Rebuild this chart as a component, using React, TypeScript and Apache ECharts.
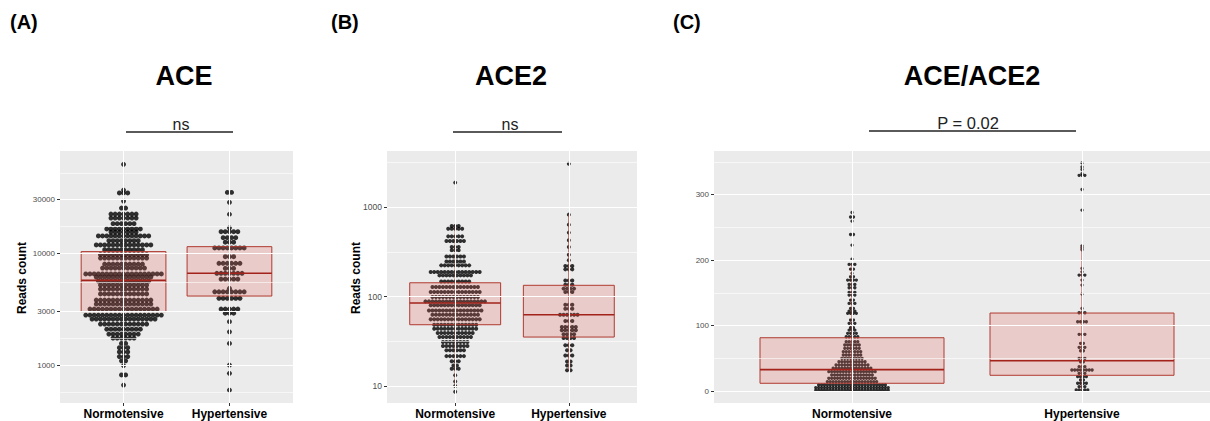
import React, { useEffect, useRef } from 'react';
import * as echarts from 'echarts';

const categories = ['Normotensive', 'Hypertensive'];

// ---------- (A) ACE reads count : dot rows (row value, dots in row) ----------
const aceNormoValues = [62000, 36500, 34400, 29100, 25200, 22300, 20500, 18300, 16400, 15400, 14200, 12900, 11800, 10700, 9660, 9020, 7980, 7350, 6500, 6100, 5620, 5180, 4770, 4310, 3800, 3500, 3160, 2790, 2570, 2320, 2090, 1890, 1740, 1560, 1430, 1310, 1190, 1090, 990, 815, 663];
const aceNormoCounts = [1, 1, 3, 1, 2, 7, 7, 6, 9, 7, 13, 8, 14, 10, 12, 12, 10, 11, 19, 14, 13, 12, 12, 12, 14, 14, 17, 19, 16, 12, 9, 8, 6, 2, 3, 3, 3, 2, 1, 2, 1];
const aceHyperValues = [34800, 28400, 22200, 16800, 15500, 13700, 12500, 11100, 9270, 8090, 7300, 6590, 5860, 4840, 4510, 3940, 3160, 2900, 2440, 1980, 1560, 1000, 843, 598];
const aceHyperCounts = [2, 1, 1, 1, 5, 4, 3, 8, 3, 6, 3, 7, 5, 1, 8, 6, 5, 3, 1, 1, 1, 1, 1, 1];
// box: [lower whisker, Q1, median, Q3, upper whisker]
const aceNormoBox = [663, 3000, 5700, 10300, 62000];
const aceHyperBox = [598, 4130, 6600, 11400, 34800];
const aceTicks = [1000, 3000, 10000, 30000];
const aceMinorTicks = [577, 1732, 5477, 17320, 51962];

// ---------- (B) ACE2 reads count ----------
const ace2NormoValues = [1890, 618, 577, 473, 420, 359, 330, 282, 248, 224, 189, 173, 148, 128, 113, 99, 88.5, 80, 70, 62.8, 55.7, 48.6, 43.8, 39.1, 35.3, 31, 28, 25.1, 21.6, 18.9, 17, 15.6, 13.2, 11.2, 10, 8.6];
const ace2NormoCounts = [1, 3, 5, 5, 6, 3, 3, 6, 6, 9, 15, 10, 9, 14, 15, 14, 18, 15, 16, 14, 15, 13, 13, 11, 10, 8, 8, 6, 6, 3, 2, 3, 1, 1, 1, 1];
const ace2HyperValues = [3080, 828, 640, 521, 427, 359, 295, 255, 220, 202, 152, 136, 123, 113, 81.3, 73.4, 62.8, 53.3, 45.7, 42, 37.9, 34.4, 28.5, 25.1, 22, 18.8, 17, 15];
const ace2HyperCounts = [1, 1, 1, 1, 1, 1, 1, 1, 3, 3, 3, 3, 4, 3, 3, 3, 6, 3, 5, 5, 4, 4, 3, 2, 3, 2, 2, 2];
const ace2NormoBox = [10, 48.5, 84.8, 143, 618];
const ace2HyperBox = [15, 35.3, 62.8, 134, 828];
const ace2Ticks = [10, 100, 1000];
const ace2MinorTicks = [31.6, 316, 3162];

// ---------- (C) ACE/ACE2 ratio ----------
const ratioNormoValues = [272.9, 266, 259.6, 239.3, 223, 201.7, 193.6, 186.4, 180, 174.7, 169.7, 163, 158, 151, 146.8, 139.2, 134.1, 126.5, 122.4, 118.9, 108.7, 103.7, 97, 93.4, 88.4, 83.2, 75.6, 70.6, 65.5, 60.4, 55.3, 50.3, 45.1, 40.1, 35.1, 29.9, 24.8, 19.8, 14.6, 9.6, 5.5, 1.5];
const ratioNormoCounts = [1, 2, 1, 2, 1, 1, 3, 2, 1, 2, 4, 3, 3, 3, 3, 2, 3, 2, 3, 4, 2, 3, 2, 3, 4, 5, 5, 6, 6, 7, 7, 8, 10, 12, 14, 17, 15, 17, 18, 24, 26, 26];
const ratioHyperValues = [348.5, 342.4, 338.4, 332, 329.5, 308, 276.4, 222, 219, 216, 187.5, 182.3, 177.3, 169.7, 162, 148.3, 126.5, 119.8, 106.1, 86.9, 73.2, 67.1, 61.9, 50.3, 45.1, 37.5, 32.5, 27.4, 22.3, 17.2, 12.2, 7, 2];
const ratioHyperCounts = [1, 1, 1, 1, 3, 1, 1, 1, 1, 1, 1, 1, 3, 1, 1, 1, 1, 3, 4, 3, 2, 3, 2, 3, 2, 3, 8, 3, 4, 2, 4, 3, 5];
const ratioNormoBox = [1.5, 12.2, 33, 81.7, 193.6];
const ratioHyperBox = [2, 24.4, 46.6, 119.4, 222];
const ratioTicks = [0, 100, 200, 300];
const ratioMinorTicks = [50, 150, 250, 350];

// ---------- styling ----------
const FONT = '"Liberation Sans", Arial, Helvetica, sans-serif';
const PANEL_BG = '#EBEBEB';
const BOX_LINE = '#B03A30';
const BOX_FILL = 'rgba(225,100,90,0.24)';
const MEDIAN = '#A3231B';
const X_MIN = 0.4;
const X_MAX = 2.6;

type Panel = {
  left: number; width: number; yType: 'log' | 'value'; yMin: number; yMax: number;
  ticks: number[]; minor: number[]; dotPx: number; dotSize: number; labelSize: number;
  groups: [number[], number[], number[]][];
};

const TOP = 151;
const HEIGHT = 252;

const panels: Panel[] = [
  { left: 60, width: 233, yType: 'log', yMin: 458, yMax: 81500, ticks: aceTicks, minor: aceMinorTicks, dotPx: 4.2, dotSize: 4.9, labelSize: 8,
    groups: [[aceNormoValues, aceNormoCounts, aceNormoBox], [aceHyperValues, aceHyperCounts, aceHyperBox]] },
  { left: 387, width: 250, yType: 'log', yMin: 6.45, yMax: 4270, ticks: ace2Ticks, minor: ace2MinorTicks, dotPx: 3.5, dotSize: 4.0, labelSize: 8.5,
    groups: [[ace2NormoValues, ace2NormoCounts, ace2NormoBox], [ace2HyperValues, ace2HyperCounts, ace2HyperBox]] },
  { left: 714, width: 506, yType: 'value', yMin: -17.9, yMax: 366.7, ticks: ratioTicks, minor: ratioMinorTicks, dotPx: 2.9, dotSize: 3.3, labelSize: 8,
    groups: [[ratioNormoValues, ratioNormoCounts, ratioNormoBox], [ratioHyperValues, ratioHyperCounts, ratioHyperBox]] },
];

function dotRows(vals: number[], counts: number[], center: number, pitch: number): number[][] {
  const out: number[][] = [];
  vals.forEach((v, r) => {
    const n = counts[r];
    for (let i = 0; i < n; i++) out.push([center + (i - (n - 1) / 2) * pitch, v]);
  });
  return out;
}

function buildOption() {
  const grid: any[] = [];
  const xAxis: any[] = [];
  const yAxis: any[] = [];
  const series: any[] = [];

  panels.forEach((p, i) => {
    grid.push({ left: p.left, top: TOP, width: p.width, height: HEIGHT, show: true, backgroundColor: PANEL_BG, borderWidth: 0, containLabel: false, outerBoundsMode: 'none' });
    xAxis.push({
      type: 'value', gridIndex: i, min: X_MIN, max: X_MAX,
      axisLine: { show: false }, splitLine: { show: false },
      axisTick: { show: true, customValues: [1, 2], length: 3, lineStyle: { color: '#333', width: 1 } },
      axisLabel: { customValues: [1, 2], formatter: (v: number) => categories[Math.round(v) - 1] ?? '', fontWeight: 'bold', fontSize: 12, color: '#000', margin: 5, fontFamily: FONT },
    });
    yAxis.push({
      type: p.yType, logBase: 10, gridIndex: i, min: p.yMin, max: p.yMax,
      axisLine: { show: false }, splitLine: { show: false }, minorSplitLine: { show: false },
      axisTick: { show: true, customValues: p.ticks, length: 3, lineStyle: { color: '#333', width: 1 } },
      axisLabel: { customValues: p.ticks, formatter: (v: number) => String(Math.round(v)), fontSize: p.labelSize, color: '#4D4D4D', margin: 5, fontFamily: FONT },
    });

    const white = (w: number) => ({ color: '#FFFFFF', width: w, type: 'solid' });
    series.push({
      type: 'line', xAxisIndex: i, yAxisIndex: i, data: [], silent: true, z: 1,
      markLine: {
        silent: true, symbol: ['none', 'none'], label: { show: false }, animation: false,
        data: [
          ...p.minor.filter((v) => v > p.yMin && v < p.yMax).map((v) => ({ yAxis: v, lineStyle: white(0.6) })),
          ...p.ticks.map((v) => ({ yAxis: v, lineStyle: white(1.1) })),
          ...[1, 2].map((v) => ({ xAxis: v, lineStyle: white(1.1) })),
        ],
      },
    });

    const pitch = (p.dotPx * (X_MAX - X_MIN)) / p.width;
    const dots: number[][] = [];
    p.groups.forEach((g, gi) => dots.push(...dotRows(g[0], g[1], gi + 1, pitch)));
    series.push({
      type: 'scatter', xAxisIndex: i, yAxisIndex: i, data: dots, symbol: 'circle', symbolSize: p.dotSize,
      itemStyle: { color: '#000000' }, silent: true, z: 2, large: false,
    });

    series.push({
      type: 'custom', xAxisIndex: i, yAxisIndex: i, z: 3, silent: true,
      data: p.groups.map((g, gi) => [gi + 1, ...g[2]]),
      encode: { x: 0, y: [1, 2, 3, 4, 5] },
      renderItem: (params: any, api: any) => {
        const x = api.value(0);
        const lo = api.value(1), q1 = api.value(2), md = api.value(3), q3 = api.value(4), hi = api.value(5);
        const a = api.coord([x - 0.4, q3]);
        const b = api.coord([x + 0.4, q1]);
        const m1 = api.coord([x - 0.4, md]);
        const m2 = api.coord([x + 0.4, md]);
        const w1 = api.coord([x, lo]);
        const w2 = api.coord([x, hi]);
        return {
          type: 'group',
          children: [
            { type: 'line', shape: { x1: w1[0], y1: w1[1], x2: w2[0], y2: w2[1] }, style: { stroke: BOX_LINE, lineWidth: 1 } },
            { type: 'rect', shape: { x: a[0], y: a[1], width: b[0] - a[0], height: b[1] - a[1] }, style: { fill: BOX_FILL, stroke: BOX_LINE, lineWidth: 1 } },
            { type: 'line', shape: { x1: m1[0], y1: m1[1], x2: m2[0], y2: m2[1] }, style: { stroke: MEDIAN, lineWidth: 1.6 } },
          ],
        };
      },
    });
  });

  const txt = (text: string, x: number, y: number, size: number, weight: string, align = 'center', rotation = 0, color = '#000') => ({
    type: 'text', x, y, rotation, silent: true,
    style: { text, fontSize: size, fontWeight: weight, fontFamily: FONT, fill: color, textAlign: align, textVerticalAlign: 'middle' },
  });
  const seg = (x1: number, x2: number, y: number) => ({
    type: 'line', silent: true, shape: { x1, y1: y, x2, y2: y }, style: { stroke: '#5A5A5A', lineWidth: 1.8 },
  });

  const graphic = [
    txt('(A)', 10, 22, 20, 'bold', 'left'),
    txt('(B)', 331, 22, 20, 'bold', 'left'),
    txt('(C)', 673, 22, 20, 'bold', 'left'),
    txt('ACE', 184, 76, 27, 'bold'),
    txt('ACE2', 511, 76, 27, 'bold'),
    txt('ACE/ACE2', 972, 76, 27, 'bold'),
    txt('ns', 181, 124, 16, 'normal', 'center', 0, '#222'),
    txt('ns', 510, 124, 16, 'normal', 'center', 0, '#222'),
    txt('P = 0.02', 968, 123, 16.5, 'normal', 'center', 0, '#222'),
    seg(126, 233, 132),
    seg(453, 562, 132),
    seg(869, 1076, 131),
    txt('Reads count', 21.7, 278, 12, 'bold', 'center', Math.PI / 2),
    txt('Reads count', 356, 278, 12, 'bold', 'center', Math.PI / 2),
  ];

  return { animation: false, backgroundColor: '#FFFFFF', grid, xAxis, yAxis, series, graphic };
}

export default function App() {
  const ref = useRef<HTMLDivElement>(null);
  useEffect(() => {
    if (!ref.current) return;
    const chart = echarts.init(ref.current, undefined, { renderer: 'svg' });
    chart.setOption(buildOption() as any);
    return () => chart.dispose();
  }, []);
  return <div ref={ref} style={{ position: 'fixed', left: 0, top: 0, width: 1210, height: 421, background: '#fff' }} />;
}
